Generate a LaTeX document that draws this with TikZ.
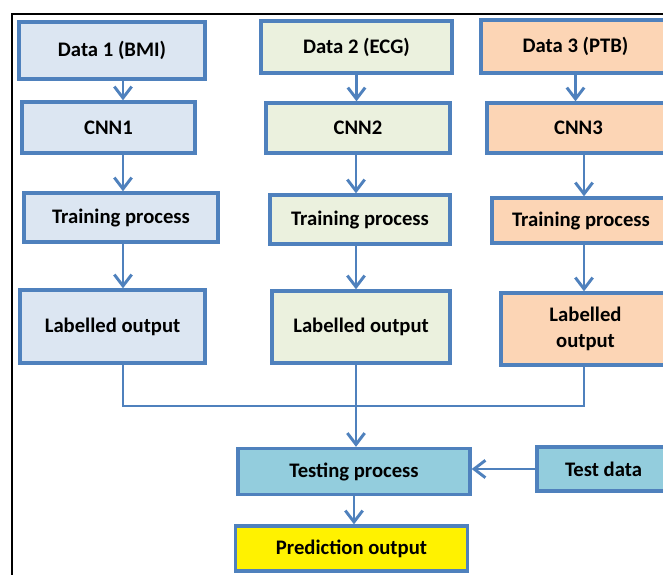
\documentclass[tikz,border=0pt]{standalone}
\usepackage{fontspec}
\setmainfont{Carlito}
\usetikzlibrary{arrows.meta}
\definecolor{edge}{HTML}{4F81BD}
\definecolor{fillA}{HTML}{DCE6F2}
\definecolor{fillB}{HTML}{EBF1DE}
\definecolor{fillC}{HTML}{FCD5B5}
\definecolor{fillT}{HTML}{93CDDD}

\begin{document}
\begin{tikzpicture}[x=0.75pt,y=-0.75pt,
    box/.style={draw=edge,line width=2.5pt,inner sep=0pt,align=center,
      font=\fontsize{15.5}{19}\selectfont\bfseries},
    sz/.style 2 args={minimum width=#1*0.75pt,minimum height=#2*0.75pt},
    arr/.style={draw=edge,line width=2.2pt,-{Straight Barb[length=8.5pt,width=13pt,line width=2.2pt]}},
    link/.style={draw=edge,line width=2.2pt}]
      \useasboundingbox (0,0) rectangle (663,574);
      \clip (0,0) rectangle (663,574);
      \draw[line width=1.6pt] (12,580) -- (12,14) -- (670,14);
      \def\colone{123}
      \def\coltwo{356}
      \def\colthree{584}
      \coordinate (col1) at (\colone,0);
      \coordinate (col2) at (\coltwo,0);
      \coordinate (col3) at (\colthree,0);
      \coordinate (merge) at (\coltwo,406);
      \node[box,fill=fillA,sz={186}{57}] (d1) at (112,50.5) {Data 1 (BMI)};
      \node[box,fill=fillA,sz={173}{51}] (c1) at (108.5,127.5) {CNN1};
      \node[box,fill=fillA,sz={194}{49}] (t1) at (121,217.5) {Training process};
      \node[box,fill=fillA,sz={185}{73}] (l1) at (112.5,326.5) {Labelled output};
      \node[box,fill=fillB,sz={191}{52}] (d2) at (356.5,47) {Data 2 (ECG)};
      \node[box,fill=fillB,sz={184}{50}] (c2) at (358,128) {CNN2};
      \node[box,fill=fillB,sz={180}{49}] (t2) at (360,219.5) {Training process};
      \node[box,fill=fillB,sz={178}{72}] (l2) at (361,327) {Labelled output};
      \node[box,fill=fillC,sz={189}{53}] (d3) at (575.5,46.5) {Data 3 (PTB)};
      \node[box,fill=fillC,sz={183}{50}] (c3) at (578.5,128) {CNN3};
      \node[box,fill=fillC,sz={178}{45}] (t3) at (581,220.5) {Training process};
      \node[box,fill=fillC,sz={169}{72}] (l3) at (585.5,329) {Labelled\\output};
      \node[box,fill=fillT,sz={232}{46}] (tp) at (354,471.5) {Testing process};
      \node[box,fill=fillT,sz={133}{44}] (td) at (603.5,469) {Test data};
      \node[box,fill=yellow,sz={232}{45}] (po) at (351.5,548.5) {Prediction output};
      \draw[arr] (col1 |- d1.south) -- (col1 |- c1.north);
      \draw[arr] (col1 |- c1.south) -- (col1 |- t1.north);
      \draw[arr] (col1 |- t1.south) -- (col1 |- l1.north);
      \draw[arr] (d2.south) -- (d2.south |- c2.north);
      \draw[arr] (col2 |- c2.south) -- (col2 |- t2.north);
      \draw[arr] (col2 |- t2.south) -- (col2 |- l2.north);
      \draw[arr] (d3.south) -- (d3.south |- c3.north);
      \draw[arr] (col3 |- c3.south) -- (col3 |- t3.north);
      \draw[arr] (col3 |- t3.south) -- (col3 |- l3.north);
      \draw[link] (col1 |- l1.south) |- (col3 |- merge) -- (col3 |- l3.south);
      \draw[arr] (col2 |- l2.south) -- (col2 |- tp.north);
      \draw[arr] (td.west) -- (td.west -| tp.east);
      \draw[arr] (tp.south) -- (tp.south |- po.north);
    \end{tikzpicture}
\end{document}
